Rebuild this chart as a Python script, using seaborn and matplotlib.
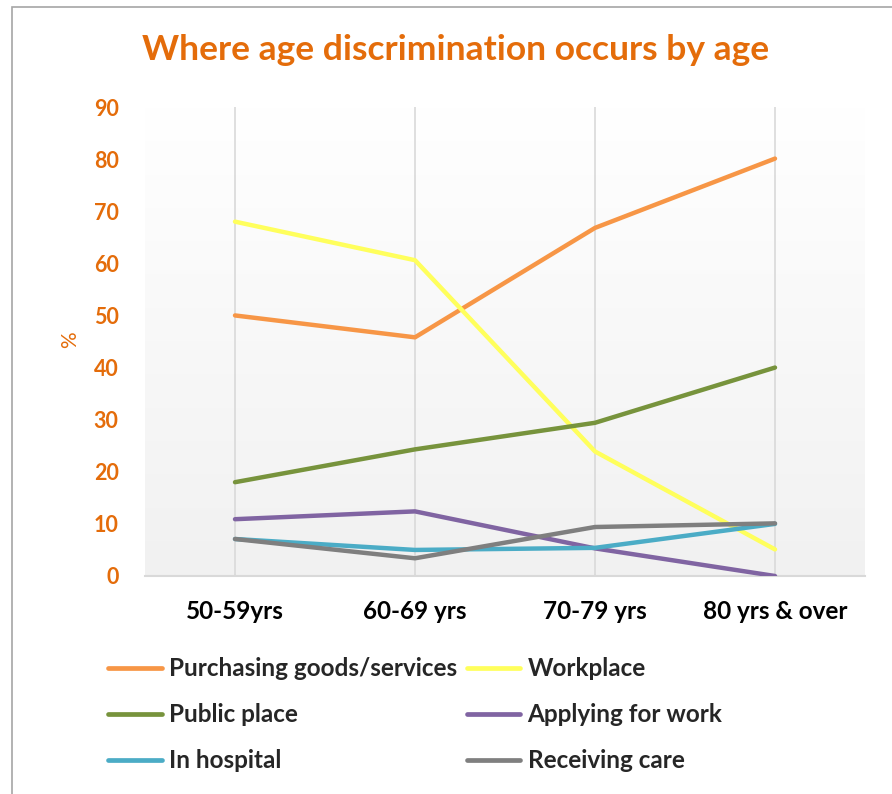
import numpy as np
import pandas as pd
import matplotlib
matplotlib.use("Agg")
import matplotlib.pyplot as plt
from matplotlib.patches import Rectangle
import seaborn as sns

age_groups = ["50-59yrs", "60-69 yrs", "70-79 yrs", "80 yrs & over"]
purchasing = [50, 45.8, 66.8, 80.1]
workplace = [68, 60.6, 23.9, 5.1]
public_place = [18, 24.3, 29.4, 40]
applying = [10.9, 12.4, 5.3, 0]
hospital = [7.1, 5.0, 5.4, 10]
receiving_care = [7.1, 3.4, 9.4, 10.1]

series_names = ["Purchasing goods/services", "Workplace", "Public place",
                "Applying for work", "In hospital", "Receiving care"]
series_values = [purchasing, workplace, public_place, applying, hospital, receiving_care]
colors = ["#F79646", "#FFFF5C", "#77933C", "#8064A2", "#4BACC6", "#7F7F7F"]

df = pd.DataFrame(
    [(age, name, v) for name, vals in zip(series_names, series_values)
     for age, v in zip(age_groups, vals)],
    columns=["age", "place", "pct"],
)

sns.set_theme(style="white")
plt.rcParams["font.family"] = ["Lato", "DejaVu Sans"]

ORANGE = "#E46C0A"
fig = plt.figure(figsize=(8.92, 7.94), dpi=100)
fig.patch.set_facecolor("white")

# chart frame
fig.add_artist(Rectangle((12 / 892, -0.1), 1.2, 1 - 7 / 794 + 0.1,
                         transform=fig.transFigure, fill=False,
                         edgecolor="#a6a6a6", linewidth=1.2))

ax = fig.add_axes([145 / 892, 1 - 576 / 794, 720 / 892, 469 / 794])
ax.set_facecolor("none")

# plot-area gradient, white to light grey
grad = np.linspace(1.0, 0.945, 256).reshape(-1, 1)
ax.imshow(np.dstack([grad, grad, grad]), extent=(-0.5, 3.5, 0, 90),
          aspect="auto", origin="upper", zorder=0)

sns.lineplot(data=df, x="age", y="pct", hue="place", hue_order=series_names,
             palette=colors, linewidth=3.2, sort=False, ax=ax, legend=False,
             zorder=3)

for i in range(len(age_groups)):
    ax.axvline(i, color="#d9d9d9", linewidth=1.2, zorder=1)

ax.set_xlim(-0.5, 3.5)
ax.set_ylim(0, 90)
ax.set_yticks(range(0, 91, 10))
for s in ["top", "right", "left"]:
    ax.spines[s].set_visible(False)
ax.spines["bottom"].set_color("#d9d9d9")
ax.spines["bottom"].set_linewidth(1.5)
ax.tick_params(axis="both", length=0)
ax.tick_params(axis="y", pad=19, labelcolor=ORANGE, labelsize=15.5)
ax.tick_params(axis="x", pad=17, labelsize=17.5)
for lab in ax.get_yticklabels():
    lab.set_fontweight("bold")
for lab in ax.get_xticklabels():
    lab.set_fontweight("bold")
    lab.set_color("black")
ax.set_xlabel("")
ax.set_ylabel("%", color=ORANGE, fontsize=15)
ax.yaxis.set_label_coords((80 - 145) / 720, (576 - 340) / 469)

fig.text(456 / 892, 1 - 50 / 794, "Where age discrimination occurs by age",
         ha="center", va="center", fontsize=25.5, fontweight="bold", color=ORANGE)

handles = [plt.Line2D([], [], color=c, linewidth=3.4) for c in colors]
order = [0, 2, 4, 1, 3, 5]
leg = fig.legend([handles[i] for i in order], [series_names[i] for i in order],
                 ncol=2, loc="upper left", bbox_to_anchor=(96 / 892, 1 - 645 / 794),
                 frameon=False, prop={"weight": "bold", "size": 17.5},
                 borderpad=0, handlelength=2.2, handletextpad=0.3,
                 columnspacing=0.4, labelspacing=0.95)

fig.savefig("out.png", dpi=100)
